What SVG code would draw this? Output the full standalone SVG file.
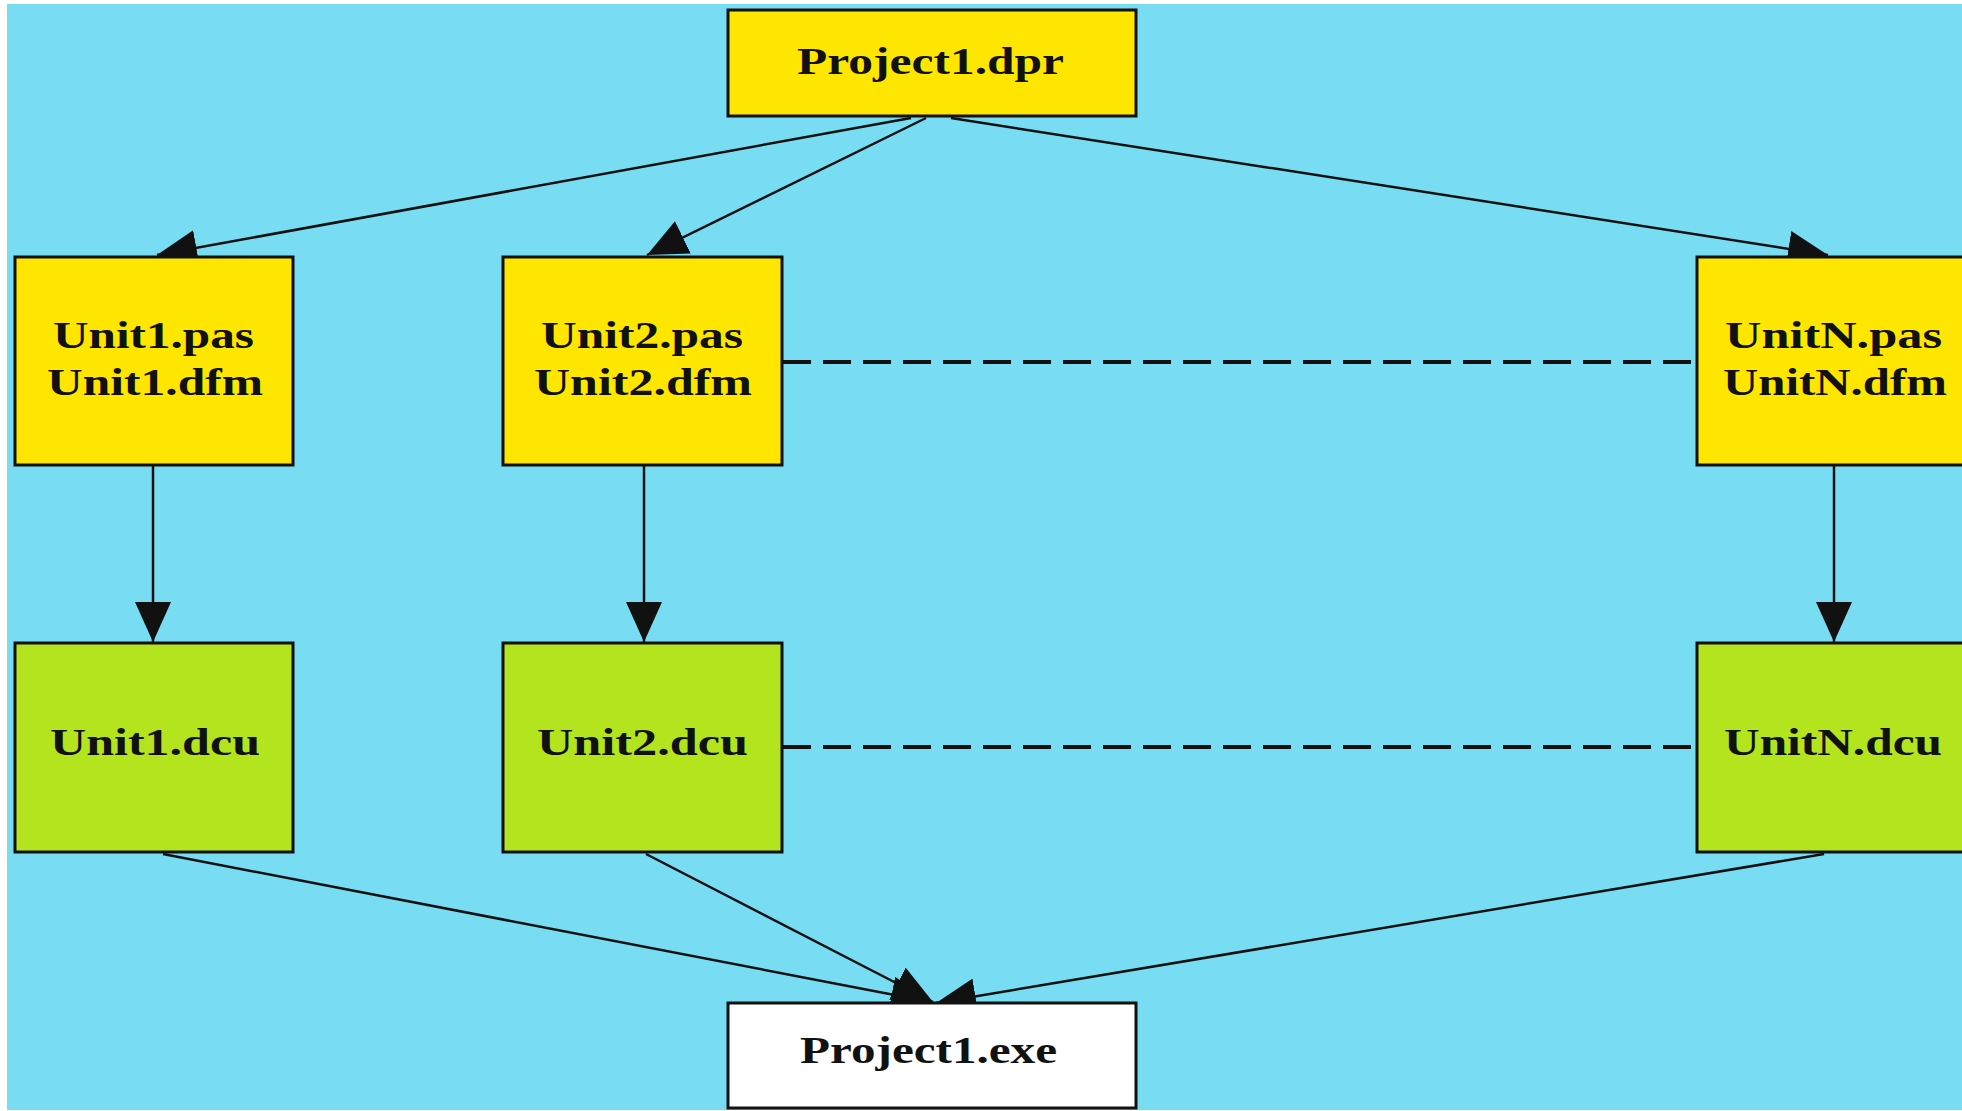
<svg xmlns="http://www.w3.org/2000/svg" width="1962" height="1111" viewBox="0 0 1962 1111">
<defs>
<style>
.bg{fill:#78dcf2}
.box{stroke:#111;stroke-width:3}
.src{fill:#ffe600}
.dcu{fill:#b4e41e}
.exe{fill:#ffffff}
.lbl{font-family:"Liberation Serif","Times New Roman",serif;font-weight:bold;font-size:38px;fill:#111}
.e{fill:none;stroke:#111;stroke-width:2.5}
.d{fill:none;stroke:#111;stroke-width:4;stroke-dasharray:28 12}
</style>
<marker id="ah" viewBox="0 0 40 36" refX="40" refY="18" markerWidth="40" markerHeight="36" markerUnits="userSpaceOnUse" orient="auto">
<path d="M0,0 L40,18 L0,36 z" fill="#111"/>
</marker>
</defs>
<rect x="0" y="0" width="1962" height="1111" fill="#ffffff"/>
<rect class="bg" x="7" y="4" width="1955" height="1106"/>
<g id="connectors">
<line class="e" x1="911" y1="118" x2="157" y2="255" marker-end="url(#ah)"/>
<line class="e" x1="926" y1="118" x2="647" y2="255" marker-end="url(#ah)"/>
<line class="e" x1="951" y1="118" x2="1828" y2="255" marker-end="url(#ah)"/>
<line class="e" x1="153" y1="466" x2="153" y2="642" marker-end="url(#ah)"/>
<line class="e" x1="644" y1="466" x2="644" y2="642" marker-end="url(#ah)"/>
<line class="e" x1="1834" y1="466" x2="1834" y2="642" marker-end="url(#ah)"/>
<line class="e" x1="163" y1="854" x2="931" y2="1002" marker-end="url(#ah)"/>
<line class="e" x1="646" y1="854" x2="933" y2="1002" marker-end="url(#ah)"/>
<line class="e" x1="1824" y1="854" x2="936" y2="1003" marker-end="url(#ah)"/>
<line class="d" x1="783" y1="362" x2="1697" y2="362"/>
<line class="d" x1="783" y1="747" x2="1697" y2="747"/>
</g>
<g id="project1_dpr">
<rect class="box src" x="728" y="10" width="408" height="106"/>
<text class="lbl" x="797" y="74" textLength="267" lengthAdjust="spacingAndGlyphs">Project1.dpr</text>
</g>
<g id="unit1_pas">
<rect class="box src" x="15" y="257" width="278" height="208"/>
<text class="lbl" x="53" y="348" textLength="201" lengthAdjust="spacingAndGlyphs">Unit1.pas</text>
<text class="lbl" x="47" y="395" textLength="216" lengthAdjust="spacingAndGlyphs">Unit1.dfm</text>
</g>
<g id="unit2_pas">
<rect class="box src" x="503" y="257" width="279" height="208"/>
<text class="lbl" x="541" y="348" textLength="202" lengthAdjust="spacingAndGlyphs">Unit2.pas</text>
<text class="lbl" x="534" y="395" textLength="218" lengthAdjust="spacingAndGlyphs">Unit2.dfm</text>
</g>
<g id="unitN_pas">
<rect class="box src" x="1697" y="257" width="280" height="208"/>
<text class="lbl" x="1725" y="348" textLength="217" lengthAdjust="spacingAndGlyphs">UnitN.pas</text>
<text class="lbl" x="1723" y="395" textLength="224" lengthAdjust="spacingAndGlyphs">UnitN.dfm</text>
</g>
<g id="unit1_dcu">
<rect class="box dcu" x="15" y="643" width="278" height="209"/>
<text class="lbl" x="50" y="755" textLength="210" lengthAdjust="spacingAndGlyphs">Unit1.dcu</text>
</g>
<g id="unit2_dcu">
<rect class="box dcu" x="503" y="643" width="279" height="209"/>
<text class="lbl" x="537" y="755" textLength="211" lengthAdjust="spacingAndGlyphs">Unit2.dcu</text>
</g>
<g id="unitN_dcu">
<rect class="box dcu" x="1697" y="643" width="280" height="209"/>
<text class="lbl" x="1724" y="755" textLength="218" lengthAdjust="spacingAndGlyphs">UnitN.dcu</text>
</g>
<g id="project1_exe">
<rect class="box exe" x="728" y="1003" width="408" height="105"/>
<text class="lbl" x="800" y="1063" textLength="257" lengthAdjust="spacingAndGlyphs">Project1.exe</text>
</g>
</svg>
